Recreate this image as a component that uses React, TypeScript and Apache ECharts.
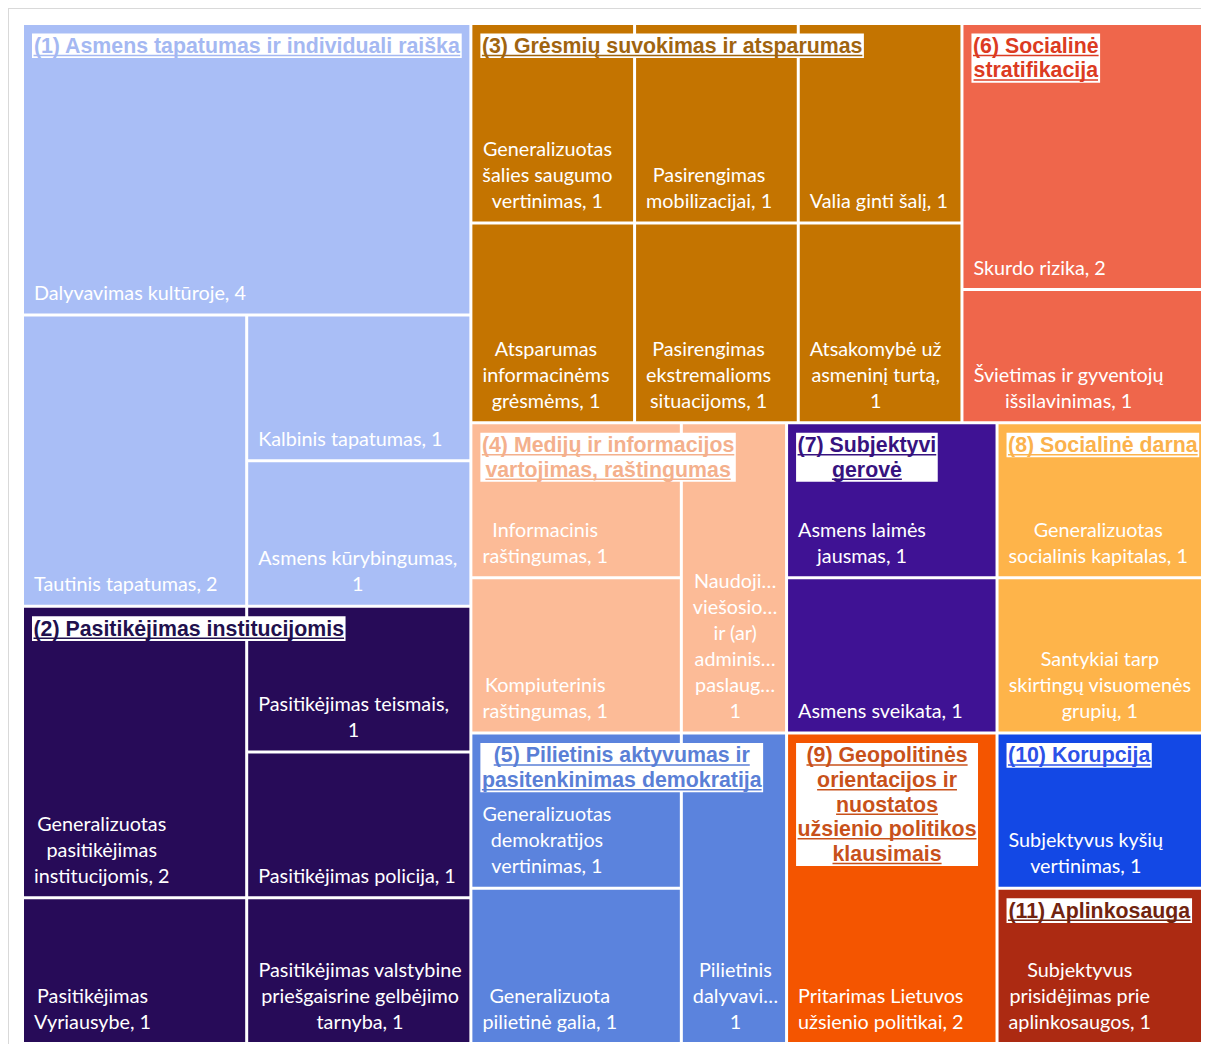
import React, { useEffect, useRef } from 'react';
import * as echarts from 'echarts';

// ---------- DATA ----------
const groupNames: string[] = [
  'Asmens tapatumas ir individuali raiška',
  'Pasitikėjimas institucijomis',
  'Grėsmių suvokimas ir atsparumas',
  'Socialinė stratifikacija',
  'Medijų ir informacijos vartojimas, raštingumas',
  'Pilietinis aktyvumas ir pasitenkinimas demokratija',
  'Subjektyvi gerovė',
  'Socialinė darna',
  'Geopolitinės orientacijos ir nuostatos užsienio politikos klausimais',
  'Korupcija',
  'Aplinkosauga',
];

const groupTitles: string[] = [
  '(1) Asmens tapatumas ir individuali raiška',
  '(2) Pasitikėjimas institucijomis',
  '(3) Grėsmių suvokimas ir atsparumas',
  '(6) Socialinė\nstratifikacija',
  '(4) Medijų ir informacijos\nvartojimas, raštingumas',
  '(5) Pilietinis aktyvumas ir\npasitenkinimas demokratija',
  '(7) Subjektyvi\ngerovė',
  '(8) Socialinė darna',
  '(9) Geopolitinės\norientacijos ir\nnuostatos\nužsienio politikos\nklausimais',
  '(10) Korupcija',
  '(11) Aplinkosauga',
];

const leafNames: string[][] = [
  ['Dalyvavimas kultūroje', 'Tautinis tapatumas', 'Kalbinis tapatumas', 'Asmens kūrybingumas'],
  ['Generalizuotas pasitikėjimas institucijomis', 'Pasitikėjimas Vyriausybe', 'Pasitikėjimas teismais', 'Pasitikėjimas policija', 'Pasitikėjimas valstybine priešgaisrine gelbėjimo tarnyba'],
  ['Generalizuotas šalies saugumo vertinimas', 'Atsparumas informacinėms grėsmėms', 'Pasirengimas mobilizacijai', 'Valia ginti šalį', 'Pasirengimas ekstremalioms situacijoms', 'Atsakomybė už asmeninį turtą'],
  ['Skurdo rizika', 'Švietimas ir gyventojų išsilavinimas'],
  ['Informacinis raštingumas', 'Kompiuterinis raštingumas', 'Naudojimasis viešosiomis ir (ar) administracinėmis paslaugomis'],
  ['Generalizuotas demokratijos vertinimas', 'Generalizuota pilietinė galia', 'Pilietinis dalyvavimas'],
  ['Asmens laimės jausmas', 'Asmens sveikata'],
  ['Generalizuotas socialinis kapitalas', 'Santykiai tarp skirtingų visuomenės grupių'],
  ['Pritarimas Lietuvos užsienio politikai'],
  ['Subjektyvus kyšių vertinimas'],
  ['Subjektyvus prisidėjimas prie aplinkosaugos'],
];

const leafValues: number[][] = [
  [4, 2, 1, 1],
  [2, 1, 1, 1, 1],
  [1, 1, 1, 1, 1, 1],
  [2, 1],
  [1, 1, 1],
  [1, 1, 1],
  [1, 1],
  [1, 1],
  [2],
  [1],
  [1],
];

// displayed label text (as wrapped / shortened in the original), value appended
const leafLabelStems: string[][] = [
  ['Dalyvavimas kultūroje, ', 'Tautinis tapatumas, ', 'Kalbinis tapatumas, ', 'Asmens kūrybingumas,\n'],
  ['Generalizuotas\npasitikėjimas\ninstitucijomis, ', 'Pasitikėjimas\nVyriausybe, ', 'Pasitikėjimas teismais,\n', 'Pasitikėjimas policija, ', 'Pasitikėjimas valstybine\npriešgaisrine gelbėjimo\ntarnyba, '],
  ['Generalizuotas\nšalies saugumo\nvertinimas, ', 'Atsparumas\ninformacinėms\ngrėsmėms, ', 'Pasirengimas\nmobilizacijai, ', 'Valia ginti šalį, ', 'Pasirengimas\nekstremalioms\nsituacijoms, ', 'Atsakomybė už\nasmeninį turtą,\n'],
  ['Skurdo rizika, ', 'Švietimas ir gyventojų\nišsilavinimas, '],
  ['Informacinis\nraštingumas, ', 'Kompiuterinis\nraštingumas, ', 'Naudoji…\nviešosio…\nir (ar)\nadminis…\npaslaug…\n'],
  ['Generalizuotas\ndemokratijos\nvertinimas, ', 'Generalizuota\npilietinė galia, ', 'Pilietinis\ndalyvavi…\n'],
  ['Asmens laimės\njausmas, ', 'Asmens sveikata, '],
  ['Generalizuotas\nsocialinis kapitalas, ', 'Santykiai tarp\nskirtingų visuomenės\ngrupių, '],
  ['Pritarimas Lietuvos\nužsienio politikai, '],
  ['Subjektyvus kyšių\nvertinimas, '],
  ['Subjektyvus\nprisidėjimas prie\naplinkosaugos, '],
];

const groupColors: string[] = [
  '#a9bef6', '#270b58', '#c47400', '#ef664b', '#fcbb97', '#5b83dd',
  '#3f1294', '#feb44a', '#f45500', '#1348e5', '#ac2a12',
];

const titleColors: string[] = [
  '#a4b8f2', '#21104d', '#a0640f', '#dc3b22', '#f4b08c', '#5a7fd6',
  '#37137f', '#fbb24c', '#c8511a', '#2c52e8', '#71240f',
];

// ---------- STYLE ----------
const SERIES_LEFT = 15;
const SERIES_TOP = 16;
const SERIES_W = 1182;
const SERIES_H = 1017;
const LEAF_FONT_FAMILY = 'Lato';
const LEAF_FONT_SIZE = 19.8;
const LEAF_LINE_H = 26;
const LEAF_PAD_X = 10;
const LEAF_PAD_B = 8.5;
const TITLE_FONT = 'bold 21.33px "Liberation Sans"';
const TITLE_LINE_H = 24.6;
const TITLE_PAD_X = 1.5;
const TITLE_INSET_X = 8;
const TITLE_INSET_Y = 8.5;
const UNDERLINE_OFFSET = 22;

export default function App() {
  const ref = useRef<HTMLDivElement>(null);

  useEffect(() => {
    const el = ref.current;
    if (!el) return;
    const chart = echarts.init(el, null, { renderer: 'svg' });
    const canvas = document.createElement('canvas');
    const ctx = canvas.getContext('2d') as CanvasRenderingContext2D;
    const measure = (s: string, font: string) => {
      ctx.font = font;
      return ctx.measureText(s).width;
    };
    const leafFont = `${LEAF_FONT_SIZE}px ${LEAF_FONT_FAMILY}`;

    const data = groupNames.map((gName, gi) => ({
      name: gName,
      itemStyle: { color: groupColors[gi] },
      children: leafNames[gi].map((n, li) => {
        const v = leafValues[gi][li];
        const text = leafLabelStems[gi][li] + String(v);
        const w = Math.max(...text.split('\n').map((l) => measure(l, leafFont)));
        return {
          name: n,
          value: v,
          itemStyle: { color: groupColors[gi] },
          label: { formatter: text, offset: [LEAF_PAD_X + w / 2, -LEAF_PAD_B] },
        };
      }),
    }));

    chart.setOption({
      animation: false,
      series: [
        {
          type: 'treemap',
          left: SERIES_LEFT,
          top: SERIES_TOP,
          width: SERIES_W,
          height: SERIES_H,
          roam: false,
          nodeClick: false,
          sort: false,
          squareRatio: 1,
          breadcrumb: { show: false },
          label: {
            show: true,
            position: 'insideBottomLeft',
            distance: 0,
            padding: 0,
            align: 'center',
            verticalAlign: 'bottom',
            color: '#ffffff',
            fontFamily: LEAF_FONT_FAMILY,
            fontSize: LEAF_FONT_SIZE,
            lineHeight: LEAF_LINE_H,
            overflow: 'none',
          },
          upperLabel: { show: false },
          itemStyle: { borderWidth: 0, gapWidth: 3, borderColor: '#ffffff' },
          levels: [
            { itemStyle: { borderWidth: 0, gapWidth: 3, borderColor: '#ffffff' } },
            { itemStyle: { borderWidth: 0, gapWidth: 3, borderColor: '#ffffff' } },
            { itemStyle: { borderWidth: 0, gapWidth: 0, borderColor: '#ffffff' } },
          ],
          data,
        },
      ],
    });

    // group titles overlaid at the top-left of each group rectangle computed by the treemap layout
    try {
      const model: any = (chart as any).getModel();
      const series = model.getSeriesByIndex(0);
      const tree = series.getData().tree;
      const info = series.layoutInfo;
      const ox = info && typeof info.x === 'number' ? info.x : SERIES_LEFT;
      const oy = info && typeof info.y === 'number' ? info.y : SERIES_TOP;
      const graphics: any[] = [];
      tree.root.children.forEach((node: any, gi: number) => {
        const l = node.getLayout();
        if (!l) return;
        const gx = ox + l.x;
        const gy = oy + l.y;
        const lines = groupTitles[gi].split('\n');
        const widths = lines.map((s) => measure(s, TITLE_FONT));
        const boxW = Math.max(...widths) + 2 * TITLE_PAD_X;
        const cx = gx + TITLE_INSET_X + boxW / 2;
        const top = gy + TITLE_INSET_Y;
        graphics.push({
          type: 'text',
          z: 100,
          x: cx,
          y: top,
          style: {
            text: groupTitles[gi],
            font: TITLE_FONT,
            fill: titleColors[gi],
            backgroundColor: '#ffffff',
            padding: [0, TITLE_PAD_X],
            lineHeight: TITLE_LINE_H,
            align: 'center',
            verticalAlign: 'top',
            textAlign: 'center',
            textVerticalAlign: 'top',
          },
        });
        lines.forEach((s, i) => {
          const yy = top + i * TITLE_LINE_H + UNDERLINE_OFFSET;
          graphics.push({
            type: 'line',
            z: 101,
            shape: { x1: cx - widths[i] / 2, y1: yy, x2: cx + widths[i] / 2, y2: yy },
            style: { stroke: titleColors[gi], lineWidth: 1.5 },
          });
        });
      });
      chart.setOption({ graphic: graphics });
    } catch (e) {
      // ignore
    }

    return () => chart.dispose();
  }, []);

  return (
    <div
      style={{
        width: 1201,
        height: 1036,
        borderTop: '1px solid #d9d9d9',
        borderLeft: '1px solid #d9d9d9',
        boxSizing: 'border-box',
        overflow: 'hidden',
        background: '#ffffff',
      }}
    >
      <div ref={ref} style={{ width: 1200, height: 1035 }} />
    </div>
  );
}
